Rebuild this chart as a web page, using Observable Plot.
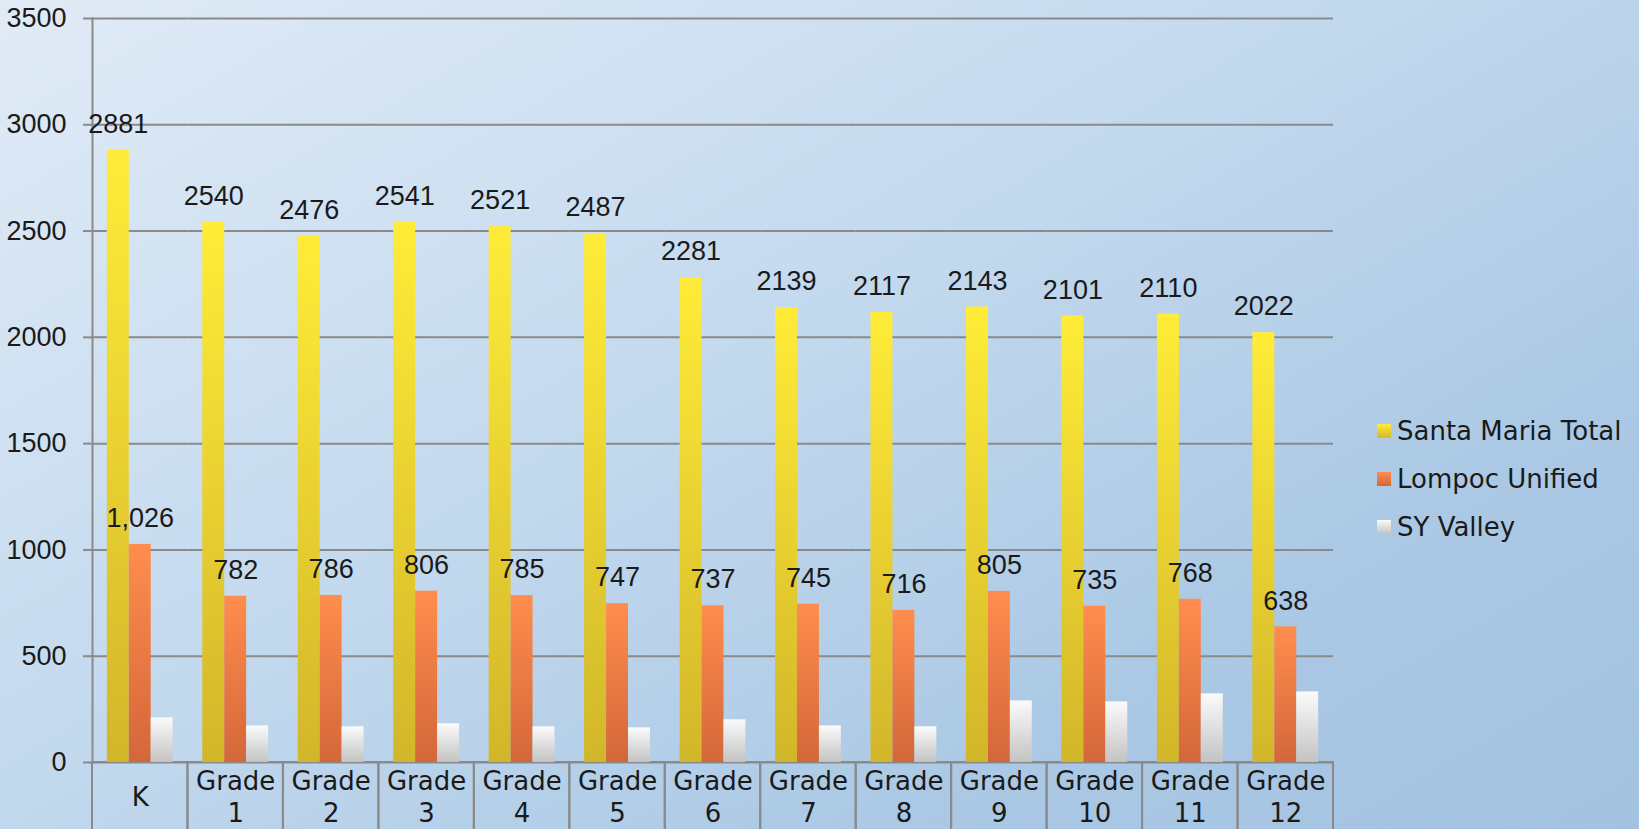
<!DOCTYPE html>
<html>
<head>
<meta charset="utf-8">
<script src="https://cdn.jsdelivr.net/npm/d3@7"></script>
<script src="https://cdn.jsdelivr.net/npm/@observablehq/plot@0.6"></script>
<style>
  html, body { margin: 0; padding: 0; width: 1639px; height: 829px; overflow: hidden; }
  body {
    background: linear-gradient(150deg, #e1ebf6 0%, #c6dbef 40%, #abc9e5 75%, #a3c2e0 100%);
    position: relative;
  }
  #chart { position: absolute; left: 0; top: 0; }
  #legend { position: absolute; left: 1377px; top: 407px; font-family: "DejaVu Sans", sans-serif; font-size: 26px; color: #1a1a1a; }
  #legend .row { height: 48px; display: flex; align-items: center; }
  #legend .sw { width: 14px; height: 14px; margin-right: 6px; }
  g[aria-label="enrollment"] rect { filter: drop-shadow(3px 2px 3px rgba(40, 60, 90, 0.35)); }
</style>
</head>
<body>
<svg width="0" height="0" style="position:absolute">
  <defs id="grads"></defs>
</svg>
<div id="chart"></div>
<div id="legend"></div>
<script>
// ---- data ----
const grades = ["K", "Grade 1", "Grade 2", "Grade 3", "Grade 4", "Grade 5", "Grade 6", "Grade 7", "Grade 8", "Grade 9", "Grade 10", "Grade 11", "Grade 12"];
const gradeLabels = ["K", "Grade\n1", "Grade\n2", "Grade\n3", "Grade\n4", "Grade\n5", "Grade\n6", "Grade\n7", "Grade\n8", "Grade\n9", "Grade\n10", "Grade\n11", "Grade\n12"];
const seriesNames = ["Santa Maria Total", "Lompoc Unified", "SY Valley"];
const santaMaria = [2881, 2540, 2476, 2541, 2521, 2487, 2281, 2139, 2117, 2143, 2101, 2110, 2022];
const lompoc = [1026, 782, 786, 806, 785, 747, 737, 745, 716, 805, 735, 768, 638];
const syValley = [210, 172, 168, 182, 168, 163, 201, 172, 168, 290, 285, 323, 332];
const yTicks = [0, 500, 1000, 1500, 2000, 2500, 3000, 3500];

// ---- styles ----
const gradientStops = [
  ["gYellow", "#ffec38", "#d2b62a"],
  ["gOrange", "#ff8d4d", "#d4673a"],
  ["gWhite", "#fbfbfb", "#c3c3c3"]
];
const fills = gradientStops.map(([id]) => `url(#${id})`);
const lineColor = "#8a8a8a";
const textColor = "#1a1a1a";

const defs = d3.select("#grads");
for (const [id, top, bottom] of gradientStops) {
  const g = defs.append("linearGradient").attr("id", id)
    .attr("x1", 0).attr("y1", 0).attr("x2", 0).attr("y2", 1);
  g.append("stop").attr("offset", "0%").attr("stop-color", top);
  g.append("stop").attr("offset", "100%").attr("stop-color", bottom);
}

// ---- tables ----
const seriesValues = [santaMaria, lompoc, syValley];
const rows = grades.flatMap((grade, i) =>
  seriesNames.map((series, s) => ({grade, series, value: seriesValues[s][i]})));
const cells = grades.map((grade, i) => ({grade, label: gradeLabels[i]}));
const smRows = rows.filter(d => d.series === seriesNames[0]);
const lpRows = rows.filter(d => d.series === seriesNames[1]);
const fmtComma = d3.format(",");

const chart = Plot.plot({
  width: 1639,
  height: 829,
  marginLeft: 92,
  marginRight: 306,
  marginTop: 18,
  marginBottom: 67,
  style: {background: "transparent", fontFamily: "Liberation Sans, Arial, sans-serif", fontSize: "27px", color: textColor, overflow: "visible"},
  fx: {domain: grades, padding: 0, round: false, axis: null},
  x: {domain: seriesNames, paddingInner: 0, paddingOuter: 0.675, round: false, axis: null},
  y: {domain: [0, 3500], label: null},
  color: {domain: seriesNames, range: fills},
  marks: [
    Plot.gridY(yTicks, {stroke: lineColor, strokeOpacity: 1, strokeWidth: 2}),
    Plot.axisY(yTicks, {tickSize: 9, tickPadding: 17, tickFormat: d => String(d), stroke: lineColor, strokeWidth: 2, fill: textColor, fontSize: 27, label: null}),
    Plot.frame({anchor: "left", facetAnchor: "left", stroke: lineColor, strokeWidth: 2}),
    Plot.barY(cells, {fx: "grade", y1: 0, y2: 0, insetBottom: -80, fill: "none", stroke: lineColor, strokeWidth: 2}),
    Plot.barY(rows, {fx: "grade", x: "series", y: "value", fill: "series", ariaLabel: "enrollment"}),
    Plot.text(smRows, {fx: "grade", x: "series", y: "value", text: d => String(d.value), dy: -26, lineAnchor: "middle", fill: textColor, fontSize: 27}),
    Plot.text(lpRows, {fx: "grade", x: "series", y: "value", text: d => fmtComma(d.value), dy: -26, lineAnchor: "middle", fill: textColor, fontSize: 27}),
    Plot.text(cells, {fx: "grade", text: "label", frameAnchor: "bottom", dy: 33, lineAnchor: "middle", lineHeight: 1.22, fontFamily: "DejaVu Sans", fontSize: 26, fill: textColor})
  ]
});
document.getElementById("chart").appendChild(chart);

// ---- legend ----
const legend = d3.select("#legend");
seriesNames.forEach((name, i) => {
  const row = legend.append("div").attr("class", "row");
  row.append("div").attr("class", "sw")
    .style("background", `linear-gradient(to bottom, ${gradientStops[i][1]}, ${gradientStops[i][2]})`);
  row.append("span").text(name);
});
</script>
</body>
</html>
